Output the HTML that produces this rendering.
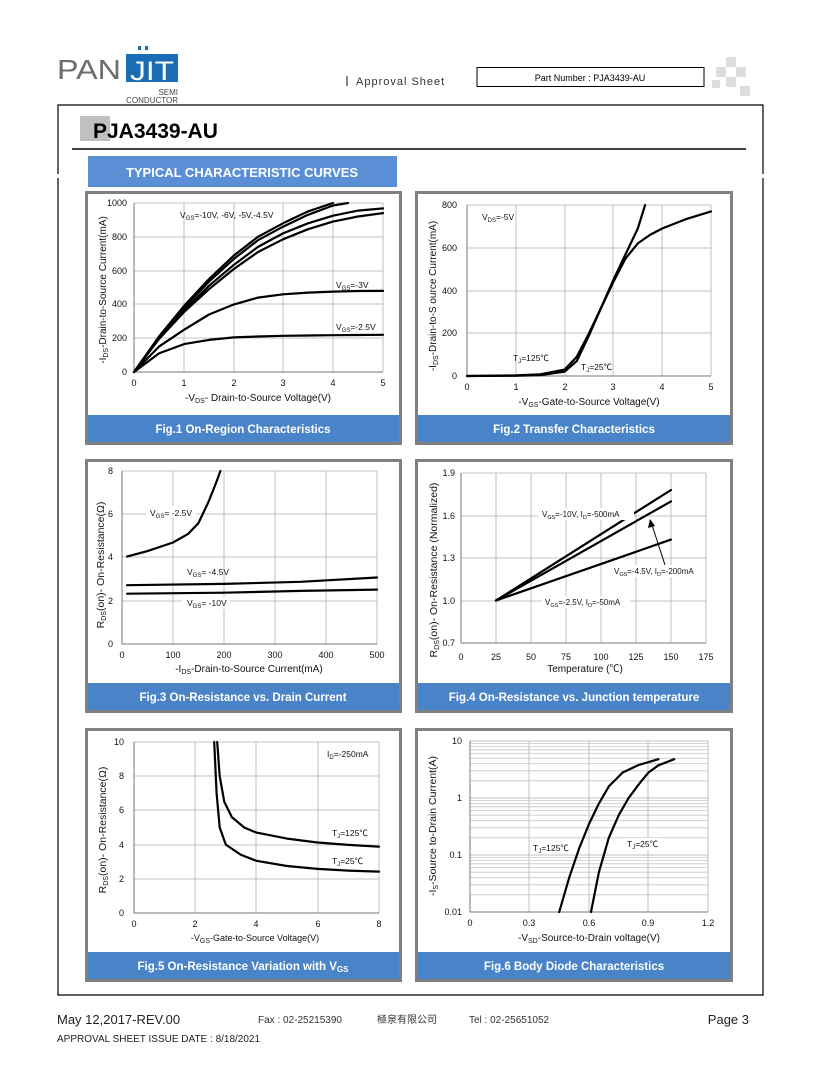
<!DOCTYPE html>
<html><head><meta charset="utf-8"><style>
html,body{margin:0;padding:0;background:#fff;}
svg text{font-family:"Liberation Sans","Noto Sans CJK SC",sans-serif;}
</style></head><body>
<svg width="820" height="1061" viewBox="0 0 820 1061" xmlns="http://www.w3.org/2000/svg">
<!-- header -->
<text x="57" y="79" font-size="28" fill="#6d6d6d" textLength="64" lengthAdjust="spacingAndGlyphs">PAN</text>
<rect x="126" y="54" width="52" height="28" fill="#1a6cb5"/>
<text x="130" y="80" font-size="27" fill="#fff" textLength="44" lengthAdjust="spacingAndGlyphs">JIT</text>
<rect x="138" y="46" width="3" height="4" fill="#1a6cb5"/><rect x="145" y="46" width="3" height="4" fill="#1a6cb5"/>
<text x="178" y="95" font-size="8" fill="#444" text-anchor="end">SEMI</text>
<text x="178" y="103" font-size="8" fill="#444" text-anchor="end">CONDUCTOR</text>
<rect x="346" y="76" width="2" height="10" fill="#888"/>
<text x="356" y="85" font-size="11" fill="#333" letter-spacing="1">Approval  Sheet</text>
<rect x="477" y="67.5" width="227" height="19" fill="none" stroke="#000" stroke-width="1"/>
<text x="590" y="81" font-size="9" text-anchor="middle" fill="#000">Part Number : PJA3439-AU</text>
<g fill="#ddd"><rect x="726" y="57" width="10" height="10"/><rect x="716" y="67" width="10" height="10"/><rect x="736" y="67" width="10" height="10"/><rect x="726" y="77" width="10" height="10"/><rect x="712" y="80" width="8" height="8"/><rect x="740" y="86" width="10" height="10"/></g>
<!-- frame -->
<path d="M58 174 V105 H763 V174 M58 178 V995 H763 V178" fill="none" stroke="#000" stroke-width="1.2"/>
<line x1="72" y1="149" x2="746" y2="149" stroke="#000" stroke-width="1.5"/>
<rect x="80" y="116" width="30" height="25" fill="#c0c0c0"/>
<text x="93" y="138" font-size="21" font-weight="bold" fill="#000">PJA3439-AU</text>
<rect x="88" y="156" width="309" height="31" fill="#5a8fd6"/>
<text x="242" y="177" font-size="13" font-weight="bold" fill="#fff" text-anchor="middle">TYPICAL CHARACTERISTIC CURVES</text>

<!-- panels -->
<g fill="none" stroke="#808080" stroke-width="3">
<rect x="86.5" y="192.5" width="314" height="251"/><rect x="416.5" y="192.5" width="315" height="251"/>
<rect x="86.5" y="460.5" width="314" height="251"/><rect x="416.5" y="460.5" width="315" height="251"/>
<rect x="86.5" y="729.5" width="314" height="251"/><rect x="416.5" y="729.5" width="315" height="251"/>
</g>
<g fill="#4a84c8">
<rect x="88" y="415" width="311" height="27"/><rect x="418" y="415" width="312" height="27"/>
<rect x="88" y="683" width="311" height="27"/><rect x="418" y="683" width="312" height="27"/>
<rect x="88" y="952" width="311" height="27"/><rect x="418" y="952" width="312" height="27"/>
</g>
<g fill="#fff" font-size="11.5" font-weight="bold" text-anchor="middle">
<text x="243" y="433">Fig.1 On-Region Characteristics</text>
<text x="574" y="433">Fig.2 Transfer Characteristics</text>
<text x="243" y="701">Fig.3 On-Resistance vs. Drain Current</text>
<text x="574" y="701">Fig.4 On-Resistance vs. Junction temperature</text>
<text x="243" y="970">Fig.5 On-Resistance Variation with V<tspan font-size="8" dy="2">GS</tspan></text>
<text x="574" y="970">Fig.6 Body Diode Characteristics</text>
</g>

<!-- grids -->
<g stroke="#b0b0b0" stroke-width="0.8" fill="none">
<path d="M184 203V372M234 203V372M283 203V372M333 203V372M383 203V372M134 203H383M134 237H383M134 271H383M134 304H383M134 338H383"/>
<path d="M516 205V376M565 205V376M613 205V376M662 205V376M711 205V376M467 205H711M467 248H711M467 291H711M467 333H711"/>
<path d="M173 471V644M224 471V644M275 471V644M326 471V644M377 471V644M122 471H377M122 514H377M122 557H377M122 601H377"/>
<path d="M496 473V643M531 473V643M566 473V643M601 473V643M636 473V643M671 473V643M706 473V643M461 473H706M461 516H706M461 558H706M461 601H706"/>
<path d="M195 742V913M256 742V913M318 742V913M379 742V913M134 742H379M134 776H379M134 810H379M134 845H379M134 879H379"/>
<path d="M529 741V912M589 741V912M648 741V912M708 741V912M470 741H708M470 798H708M470 855H708"/>
<path stroke="#c8c8c8" d="M470 894.8H708M470 884.8H708M470 877.7H708M470 872.2H708M470 867.6H708M470 863.8H708M470 860.5H708M470 857.6H708M470 837.8H708M470 827.8H708M470 820.7H708M470 815.2H708M470 810.6H708M470 806.8H708M470 803.5H708M470 800.6H708M470 780.8H708M470 770.8H708M470 763.7H708M470 758.2H708M470 753.6H708M470 749.8H708M470 746.5H708M470 743.6H708"/>
</g>
<g stroke="#777" stroke-width="1" fill="none">
<path d="M134 203V372H383"/><path d="M467 205V376H711"/><path d="M122 471V644H377"/><path d="M461 473V643H706"/><path d="M134 742V913H379"/><path d="M470 741V912H708"/>
</g>

<!-- curves -->
<g stroke="#000" stroke-width="2.2" fill="none" stroke-linejoin="round" stroke-linecap="round">
<polyline points="134,372 159,336.5 184,306 209,279 234,255.4 258,236.8 283,223.3 308,211.4 333,203"/>
<polyline points="134,372 159,337.4 184,307.8 209,281.6 234,258.8 258,240.2 283,226.7 308,214.8 333,205.5 348,203"/>
<polyline points="134,372 159,338.2 184,310.3 209,285.8 234,264.7 258,246.9 283,233.4 308,223.3 333,215.7 358,210.6 383,208.4"/>
<polyline points="134,372 159,339 184,312 209,289.2 234,268.9 258,252 283,239.3 308,229.2 333,221.6 358,216.5 383,213.1"/>
<polyline points="134,372 159,346.6 184,329.8 209,314.5 234,304.4 258,297.6 283,294.3 308,292.6 333,291.6 358,291 383,290.9"/>
<polyline points="134,372 159,353.4 184,344.1 209,339.9 234,337.4 258,336.5 283,335.8 308,335.5 333,335.2 358,335 383,334.8"/>

<polyline points="467,376 515.8,375.4 540.2,374.3 564.6,369.6 576.8,356.8 589,333.2 601.2,307.6 613.4,279.8 625.6,254.1 637.8,228.5 645.1,205"/>
<polyline points="467,376 515.8,375.8 540.2,375.1 564.6,371.7 576.8,361 589,335.4 601.2,307.6 613.4,281.9 625.6,258.4 637.8,243.4 650,234.9 662.2,228.5 686.6,218.9 711,211.4"/>

<polyline points="127.1,556.5 147.5,551.1 173,542.5 188.3,533.8 198.5,523 208.7,501.4 216.4,482 220.4,471"/>
<polyline points="127.1,585.2 224,583.9 300.5,581.8 377,577.5"/>
<polyline points="127.1,593.7 224,592.7 300.5,590.9 377,589.6"/>

<line x1="496" y1="600.5" x2="671" y2="490"/>
<line x1="496" y1="600.5" x2="671" y2="501.4"/>
<line x1="496" y1="600.5" x2="671" y2="539.6"/>

<polyline points="214.2,742 216.6,793.3 219.7,827.5 225.8,844.6 241.1,854.9 256.4,860.8 287,866 317.6,868.9 348.2,870.6 379,871.6"/>
<polyline points="217.2,742 219.7,776.2 224.3,801.9 231.9,817.2 244.2,827.5 256.4,832.6 287,838.6 317.6,842.5 348.2,844.9 379,846.7"/>

<polyline points="559.2,912 569.2,877.7 579.1,848.5 589,824 598.9,803.5 608.8,786.4 622.7,772.5 638.6,765 658.4,759.2"/>
<polyline points="591,912 598.9,872.2 608.8,837.8 618.7,815.2 628.6,798 640.5,782.1 648.5,772.5 658.4,765.3 674.2,759.2"/>
</g>
<line x1="665" y1="565" x2="652" y2="525" stroke="#000" stroke-width="1"/>
<path d="M650 519 L648 528 L655 526 Z" fill="#000"/>

<!-- ticks labels -->
<g font-size="9" fill="#111" text-anchor="end">
<text x="127" y="206">1000</text><text x="127" y="240">800</text><text x="127" y="274">600</text><text x="127" y="307">400</text><text x="127" y="341">200</text><text x="127" y="375">0</text>
<text x="457" y="208">800</text><text x="457" y="251">600</text><text x="457" y="294">400</text><text x="457" y="336">200</text><text x="457" y="379">0</text>
<text x="113" y="474">8</text><text x="113" y="517">6</text><text x="113" y="560">4</text><text x="113" y="604">2</text><text x="113" y="647">0</text>
<text x="455" y="476">1.9</text><text x="455" y="519">1.6</text><text x="455" y="561">1.3</text><text x="455" y="604">1.0</text><text x="455" y="646">0.7</text>
<text x="124" y="745">10</text><text x="124" y="779">8</text><text x="124" y="813">6</text><text x="124" y="848">4</text><text x="124" y="882">2</text><text x="124" y="916">0</text>
<text x="462" y="744">10</text><text x="462" y="801">1</text><text x="462" y="858">0.1</text><text x="462" y="915">0.01</text>
</g>
<g font-size="9" fill="#111" text-anchor="middle">
<text x="134" y="386">0</text><text x="184" y="386">1</text><text x="234" y="386">2</text><text x="283" y="386">3</text><text x="333" y="386">4</text><text x="383" y="386">5</text>
<text x="467" y="390">0</text><text x="516" y="390">1</text><text x="565" y="390">2</text><text x="613" y="390">3</text><text x="662" y="390">4</text><text x="711" y="390">5</text>
<text x="122" y="658">0</text><text x="173" y="658">100</text><text x="224" y="658">200</text><text x="275" y="658">300</text><text x="326" y="658">400</text><text x="377" y="658">500</text>
<text x="461" y="660">0</text><text x="496" y="660">25</text><text x="531" y="660">50</text><text x="566" y="660">75</text><text x="601" y="660">100</text><text x="636" y="660">125</text><text x="671" y="660">150</text><text x="706" y="660">175</text>
<text x="134" y="927">0</text><text x="195" y="927">2</text><text x="256" y="927">4</text><text x="318" y="927">6</text><text x="379" y="927">8</text>
<text x="470" y="926">0</text><text x="529" y="926">0.3</text><text x="589" y="926">0.6</text><text x="648" y="926">0.9</text><text x="708" y="926">1.2</text>
</g>

<!-- axis titles -->
<g font-size="10" fill="#111" text-anchor="middle">
<text x="258" y="401">-V<tspan font-size="7" dy="2">DS</tspan><tspan dy="-2">- Drain-to-Source  Voltage(V)</tspan></text>
<text x="589" y="405">-V<tspan font-size="7" dy="2">GS</tspan><tspan dy="-2">-Gate-to-Source Voltage(V)</tspan></text>
<text x="249" y="672">-I<tspan font-size="7" dy="2">DS</tspan><tspan dy="-2">-Drain-to-Source  Current(mA)</tspan></text>
<text x="585" y="672">Temperature (℃)</text>
<text x="255" y="941" font-size="9">-V<tspan font-size="7" dy="2">GS</tspan><tspan dy="-2">-Gate-to-Source   Voltage(V)</tspan></text>
<text x="589" y="941">-V<tspan font-size="7" dy="2">SD</tspan><tspan dy="-2">-Source-to-Drain  voltage(V)</tspan></text>
<text transform="translate(106,290) rotate(-90)">-I<tspan font-size="7" dy="2">DS</tspan><tspan dy="-2">-Drain-to-Source  Current(mA)</tspan></text>
<text transform="translate(436,296) rotate(-90)">-I<tspan font-size="7" dy="2">DS</tspan><tspan dy="-2">-Drain-to-S ource Current(mA)</tspan></text>
<text transform="translate(104,565) rotate(-90)" font-size="10.5">R<tspan font-size="7" dy="2">DS</tspan><tspan dy="-2">(on)- On-Resistance(Ω)</tspan></text>
<text transform="translate(437,570) rotate(-90)" font-size="10.5">R<tspan font-size="7" dy="2">DS</tspan><tspan dy="-2">(on)- On-Resistance (Normalized)</tspan></text>
<text transform="translate(106,830) rotate(-90)" font-size="10.5">R<tspan font-size="7" dy="2">DS</tspan><tspan dy="-2">(on)- On-Resistance(Ω)</tspan></text>
<text transform="translate(436,826) rotate(-90)" font-size="10.5">-I<tspan font-size="7" dy="2">S</tspan><tspan dy="-2">-Source  to-Drain Current(A)</tspan></text>
</g>

<!-- annotations -->
<g font-size="8.5" fill="#111">
<text x="180" y="218">V<tspan font-size="6" dy="2">GS</tspan><tspan dy="-2">=-10V, -6V, -5V,-4.5V</tspan></text>
<text x="336" y="288">V<tspan font-size="6" dy="2">GS</tspan><tspan dy="-2">=-3V</tspan></text>
<text x="336" y="330">V<tspan font-size="6" dy="2">GS</tspan><tspan dy="-2">=-2.5V</tspan></text>
<text x="482" y="220">V<tspan font-size="6" dy="2">DS</tspan><tspan dy="-2">=-5V</tspan></text>
<text x="513" y="361">T<tspan font-size="6" dy="2">J</tspan><tspan dy="-2">=125℃</tspan></text>
<text x="581" y="370">T<tspan font-size="6" dy="2">J</tspan><tspan dy="-2">=25℃</tspan></text>
<rect x="146" y="506" width="50" height="12" fill="#fff"/>
<text x="150" y="516">V<tspan font-size="6" dy="2">GS</tspan><tspan dy="-2">= -2.5V</tspan></text>
<text x="187" y="575">V<tspan font-size="6" dy="2">GS</tspan><tspan dy="-2">= -4.5V</tspan></text>
<rect x="182" y="597" width="48" height="12" fill="#fff"/>
<text x="187" y="606">V<tspan font-size="6" dy="2">GS</tspan><tspan dy="-2">= -10V</tspan></text>
<g font-size="8">
<rect x="538" y="508" width="96" height="12" fill="#fff"/>
<text x="542" y="517">V<tspan font-size="5.5" dy="2">GS</tspan><tspan dy="-2">=-10V, I</tspan><tspan font-size="5.5" dy="2">D</tspan><tspan dy="-2">=-500mA</tspan></text>
<rect x="612" y="565" width="92" height="12" fill="#fff"/>
<text x="614" y="574">V<tspan font-size="5.5" dy="2">GS</tspan><tspan dy="-2">=-4.5V, I</tspan><tspan font-size="5.5" dy="2">D</tspan><tspan dy="-2">=-200mA</tspan></text>
<rect x="542" y="596" width="88" height="12" fill="#fff"/>
<text x="545" y="605">V<tspan font-size="5.5" dy="2">GS</tspan><tspan dy="-2">=-2.5V, I</tspan><tspan font-size="5.5" dy="2">D</tspan><tspan dy="-2">=-50mA</tspan></text>
</g>
<text x="327" y="757">I<tspan font-size="6" dy="2">D</tspan><tspan dy="-2">=-250mA</tspan></text>
<text x="332" y="836">T<tspan font-size="6" dy="2">J</tspan><tspan dy="-2">=125℃</tspan></text>
<text x="332" y="864">T<tspan font-size="6" dy="2">J</tspan><tspan dy="-2">=25℃</tspan></text>
<rect x="530" y="842" width="40" height="12" fill="#fff"/>
<text x="533" y="851">T<tspan font-size="6" dy="2">J</tspan><tspan dy="-2">=125℃</tspan></text>
<rect x="624" y="838" width="36" height="12" fill="#fff"/>
<text x="627" y="847">T<tspan font-size="6" dy="2">J</tspan><tspan dy="-2">=25℃</tspan></text>
</g>

<!-- footer -->
<text x="57" y="1024" font-size="13" fill="#222">May 12,2017-REV.00</text>
<text x="258" y="1023" font-size="10" fill="#333" font-family="Liberation Mono, Noto Sans CJK TC, monospace">Fax : 02-25215390</text>
<text x="377" y="1023" font-size="10" fill="#333" font-family="Noto Sans CJK TC, sans-serif">極泉有限公司</text>
<text x="469" y="1023" font-size="10" fill="#333" font-family="Liberation Mono, monospace">Tel : 02-25651052</text>
<text x="749" y="1024" font-size="13" fill="#222" text-anchor="end">Page 3</text>
<text x="57" y="1042" font-size="10" fill="#222">APPROVAL SHEET ISSUE DATE : 8/18/2021</text>
</svg>
</body></html>
